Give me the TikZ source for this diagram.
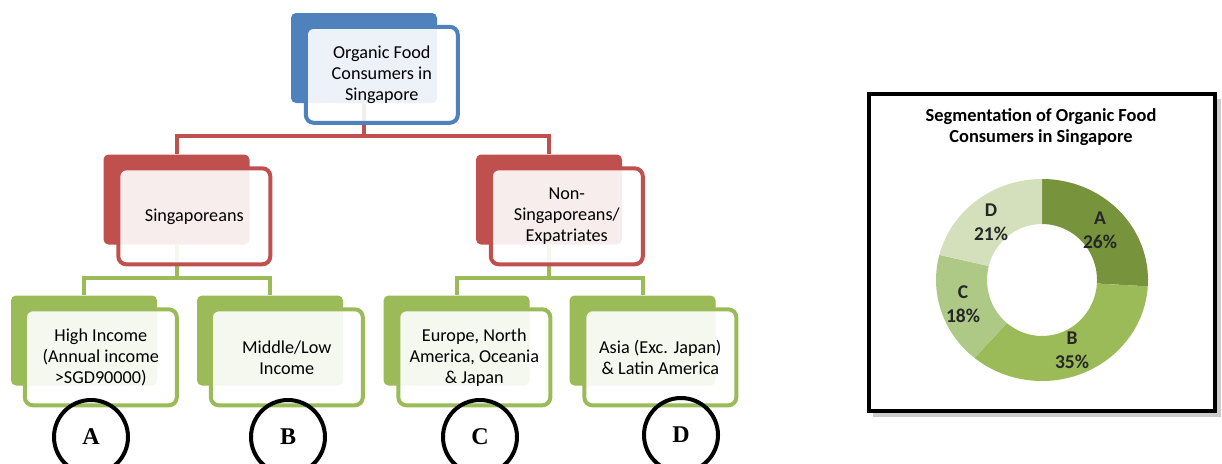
\documentclass[tikz,border=0pt]{standalone}
\usepackage{fontspec}
\setmainfont{Carlito}
\newfontfamily\letterfont{Liberation Serif}
\usetikzlibrary{positioning,backgrounds}
\definecolor{orgblue}{HTML}{4F81BD}
\definecolor{orgred}{HTML}{C0504D}
\definecolor{orggreen}{HTML}{9BBB59}
\definecolor{segA}{HTML}{77933C}
\definecolor{segB}{HTML}{9BBB59}
\definecolor{segC}{HTML}{AEC885}
\definecolor{segD}{HTML}{D4E0BC}
\tikzset{
  backbox/.style={rectangle,rounded corners=5pt,fill=#1,minimum width=146pt,minimum height=90pt,inner sep=0pt},
  frontbox/.style={rectangle,rounded corners=8pt,draw=#1,line width=4pt,fill=white,fill opacity=0.9,text opacity=1,align=center,minimum width=152pt,minimum height=96pt,inner sep=2pt,anchor=north west,font=\fontsize{18.2}{21}\selectfont},
  link/.style={line width=4pt,draw=#1},
  badge/.style={circle,draw=black,line width=4pt,minimum size=74pt,inner sep=0pt,font=\letterfont\bfseries\fontsize{24}{24}\selectfont},
  pielabel/.style={align=center,font=\bfseries\fontsize{19.5}{24}\selectfont,text=black!85}
}

\begin{document}
\begin{tikzpicture}[x=1pt,y=-1pt]
    \useasboundingbox (0,0) rectangle (1222,463);
    % hierarchy
    \node[backbox=orgblue] (topb) at (364,58) {};
    \node[frontbox=orgblue] (top) at ([shift={(13,12)}]topb.north west) {Organic Food\\Consumers in\\Singapore};
    \node[backbox=orgred] (singb) at (176.5,199.5) {};
    \node[frontbox=orgred] (sing) at ([shift={(13,12)}]singb.north west) {Singaporeans};
    \node[backbox=orgred] (nonb) at (549,199.5) {};
    \node[frontbox=orgred] (non) at ([shift={(13,12)}]nonb.north west) {Non-\\Singaporeans/\\Expatriates};
    \node[backbox=orggreen] (hib) at (84,340.5) {};
    \node[frontbox=orggreen] (hi) at ([shift={(12,12)}]hib.north west) {High Income\\(Annual income\\>SGD90000)};
    \node[backbox=orggreen] (midb) at (270,340.5) {};
    \node[frontbox=orggreen] (mid) at ([shift={(12,12)}]midb.north west) {Middle/Low\\Income};
    \node[backbox=orggreen] (eurb) at (456.5,340.5) {};
    \node[frontbox=orggreen] (eur) at ([shift={(13,12)}]eurb.north west) {Europe, North\\America, Oceania\\\& Japan};
    \node[backbox=orggreen] (asib) at (642.5,340.5) {};
    \node[frontbox=orggreen] (asi) at ([shift={(13,12)}]asib.north west) {Asia (Exc. Japan)\\\& Latin America};
    \begin{scope}[on background layer]
      \draw[link=orgred] (topb.south) -- ++(0,33) coordinate (r1) -| (singb.north);
      \draw[link=orgred] (r1) -| (nonb.north);
      \draw[link=orggreen] (singb.south) -- ++(0,33) coordinate (g1) -| (hib.north);
      \draw[link=orggreen] (g1) -| (midb.north);
      \draw[link=orggreen] (nonb.south) -- ++(0,33) coordinate (g2) -| (eurb.north);
      \draw[link=orggreen] (g2) -| (asib.north);
    \end{scope}
    \node[badge] (ca) at (91,437) {A};
    \node[badge] (cb) at (288,437) {B};
    \node[badge] (cc) at (480,437) {C};
    \node[badge] (cd) at (681,435) {D};
    % chart
    \fill[black!40,opacity=0.5] (873,99) rectangle (1221,417);
    \draw[line width=4pt,fill=white] (869,94) rectangle (1215,411);
    \node[align=center,font=\bfseries\fontsize{18.4}{21}\selectfont] (title) at (1041,127) {Segmentation of Organic Food\\Consumers in Singapore};
    \begin{scope}[shift={(1042,280)}]
      \foreach \a/\b/\c in {90/-3.6/segA,-3.6/-129.6/segB,-129.6/-194.4/segC,-194.4/-270/segD}
        \fill[\c] (\a:106pt and 101pt) arc[start angle=\a,end angle=\b,x radius=106pt,y radius=101pt]
          -- (\b:55pt and 56pt) arc[start angle=\b,end angle=\a,x radius=55pt,y radius=56pt] -- cycle;
    \end{scope}
    \node[pielabel] (la) at (1100,230) {A\\26\%};
    \node[pielabel] (lb) at (1072,350) {B\\35\%};
    \node[pielabel] (lc) at (963,304) {C\\18\%};
    \node[pielabel] (ld) at (991,222) {D\\21\%};
  \end{tikzpicture}
\end{document}
